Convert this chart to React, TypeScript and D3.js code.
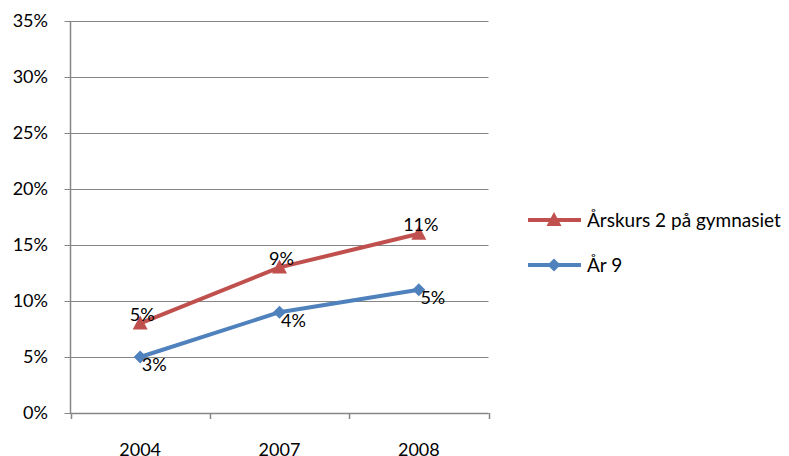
import React from "react";
import * as d3 from "d3";

const categories = ["2004", "2007", "2008"];
const yTicks = [0, 5, 10, 15, 20, 25, 30, 35];
const redName = "Årskurs 2 på gymnasiet";
const redValues = [8, 13, 16];
const redLabels = ["5%", "9%", "11%"];
const blueName = "År 9";
const blueValues = [5, 9, 11];
const blueLabels = ["3%", "4%", "5%"];

const RED = "#C0504D";
const BLUE = "#4F81BD";
const AXIS = "#868686";
const FONT = "Lato, 'Open Sans', sans-serif";

export default function App() {
  const left = 70.5, right = 488.5, top = 21, bottom = 413;
  const x = d3.scaleBand<string>().domain(categories).range([left, right]);
  const y = d3.scaleLinear().domain([0, 35]).range([bottom, top]);
  const cx = (c: string) => (x(c) as number) + x.bandwidth() / 2;
  const line = d3.line<number>().x((_, i) => cx(categories[i])).y((v) => y(v));
  const tri = "M0,-8L7.5,6L-7.5,6Z";
  const dia = "M0,-6.5L6.5,0L0,6.5L-6.5,0Z";
  const boundaries = [left, ...categories.map((c) => (x(c) as number) + x.bandwidth())];
  const fs = 18;

  return (
    <div style={{ position: "absolute", left: 0, top: 0 }}>
      <svg width={789} height={456} style={{ display: "block", fontFamily: FONT }}>
        <rect width={789} height={456} fill="#fff" />
        {yTicks.map((t) => (
          <g key={t}>
            <line x1={left - 6} x2={right} y1={Math.round(y(t)) + 0.5} y2={Math.round(y(t)) + 0.5} stroke={AXIS} strokeWidth={1} />
            <text x={48} y={y(t)} dy="0.35em" textAnchor="end" fontSize={fs} fill="#000">{t}%</text>
          </g>
        ))}
        <line x1={left} x2={left} y1={top} y2={bottom} stroke={AXIS} strokeWidth={1.5} />
        <line x1={left} x2={right} y1={bottom + 0.5} y2={bottom + 0.5} stroke={AXIS} strokeWidth={1.5} />
        {boundaries.map((b, i) => (
          <line key={i} x1={Math.round(b) + 0.5} x2={Math.round(b) + 0.5} y1={bottom} y2={bottom + 6} stroke={AXIS} strokeWidth={1.5} />
        ))}
        {categories.map((c) => (
          <text key={c} x={cx(c)} y={455.5} textAnchor="middle" fontSize={fs} fill="#000">{c}</text>
        ))}
        <path d={line(redValues) || ""} fill="none" stroke={RED} strokeWidth={4} strokeLinejoin="round" />
        <path d={line(blueValues) || ""} fill="none" stroke={BLUE} strokeWidth={4} strokeLinejoin="round" />
        {redValues.map((v, i) => (
          <path key={"r" + i} d={tri} transform={`translate(${cx(categories[i])},${y(v)})`} fill={RED} />
        ))}
        {blueValues.map((v, i) => (
          <path key={"b" + i} d={dia} transform={`translate(${cx(categories[i])},${y(v)})`} fill={BLUE} />
        ))}
        {redValues.map((v, i) => (
          <text key={"rl" + i} x={cx(categories[i]) + 2} y={y(v) - 9} dy="0.35em" textAnchor="middle" fontSize={fs} fill="#000">{redLabels[i]}</text>
        ))}
        {blueValues.map((v, i) => (
          <text key={"bl" + i} x={cx(categories[i]) + 14} y={y(v) + 8} dy="0.35em" textAnchor="middle" fontSize={fs} fill="#000">{blueLabels[i]}</text>
        ))}
        <g>
          <line x1={528} x2={581} y1={220} y2={220} stroke={RED} strokeWidth={4} />
          <path d={tri} transform="translate(554,220)" fill={RED} />
          <text x={587} y={220} dy="0.35em" fontSize={19} fill="#000">{redName}</text>
          <line x1={528} x2={581} y1={265} y2={265} stroke={BLUE} strokeWidth={4} />
          <path d={dia} transform="translate(554,265)" fill={BLUE} />
          <text x={587} y={265} dy="0.35em" fontSize={19} fill="#000">{blueName}</text>
        </g>
      </svg>
    </div>
  );
}
